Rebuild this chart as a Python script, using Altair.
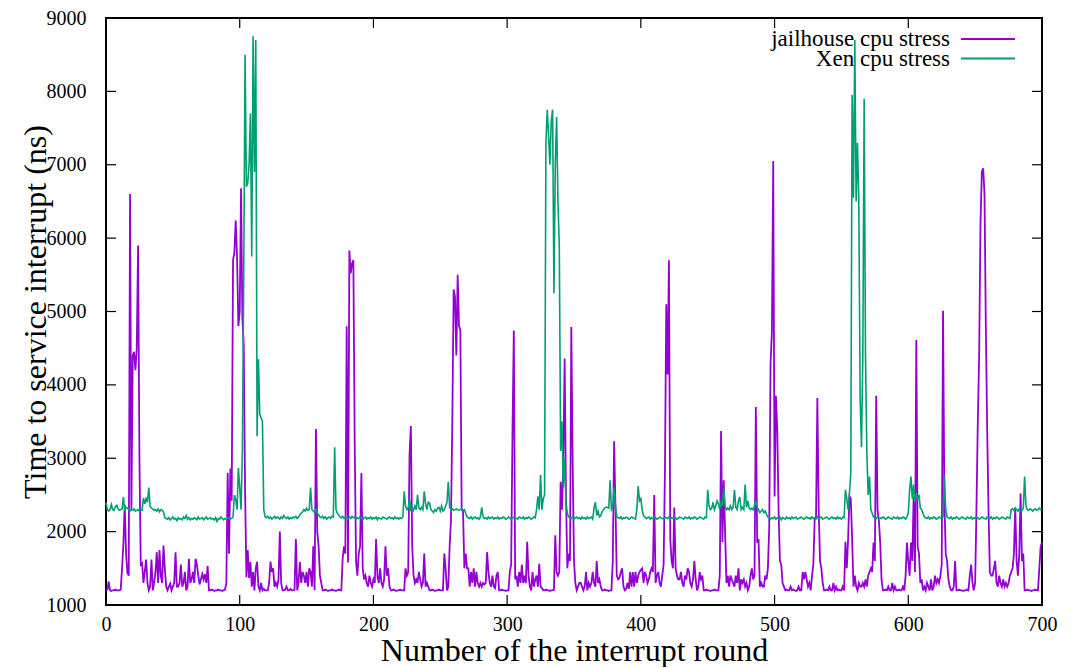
import altair as alt
import pandas as pd

J_LABEL = "jailhouse cpu stress"
X_LABEL = "Xen cpu stress"

# Time to service interrupt (ns) per interrupt round 0..700
jailhouse = [
    1200, 1210, 1320, 1200, 1190, 1200, 1200, 1210, 1200, 1200,
    1200, 1210, 1500, 1830, 2370, 1700, 1440, 1400, 6600, 2300,
    4400, 4450, 4200, 4500, 5900, 3000, 1550, 1570, 1300, 1450,
    1620, 1300, 1200, 1250, 1620, 1200, 1300, 1450, 1720, 1300,
    1750, 1400, 1300, 1810, 1500, 1250, 1200, 1250, 1290, 1200,
    1250, 1300, 1720, 1250, 1250, 1300, 1550, 1250, 1300, 1450,
    1200, 1250, 1630, 1300, 1350, 1450, 1300, 1630, 1550, 1400,
    1280, 1350, 1420, 1350, 1420, 1300, 1530, 1200, 1200, 1210,
    1200, 1190, 1200, 1200, 1210, 1200, 1200, 1190, 1200, 1210,
    1300, 2800, 1700, 2860, 2420, 5700, 5800, 6240, 5750, 4800,
    5000, 6680, 4900, 4550, 2580, 1380, 1750, 1370, 1590, 1250,
    1450, 1200, 1500, 1590, 1250, 1200, 1300, 1200, 1220, 1200,
    1200, 1200, 1300, 1590, 1450, 1500, 1250, 1300, 1250, 1350,
    2000, 1300, 1200, 1200, 1210, 1250, 1200, 1200, 1220, 1200,
    1200, 1210, 1900, 1200, 1300, 1590, 1300, 1450, 1400, 1300,
    1450, 1250, 1500, 1450, 1250, 1800, 1200, 3400, 2000, 1800,
    1400, 1300, 1200, 1200, 1210, 1200, 1190, 1200, 1200, 1210,
    1200, 1200, 1190, 1200, 1210, 1200, 1200, 1640, 1800, 1700,
    4800, 1580, 5830, 5520, 5650, 5700, 3200, 1590, 1400, 1700,
    1800, 2800, 1500, 1350, 1400, 1300, 1250, 1400, 1300, 1250,
    1350, 1300, 1900, 1400, 1300, 1500, 1300, 1250, 1350, 1800,
    1400, 1500, 1250, 1200, 1200, 1210, 1200, 1190, 1200, 1200,
    1210, 1200, 1200, 1200, 1500, 1400, 1450, 3050, 3440, 1800,
    1400, 1300, 1350, 1300, 1450, 1350, 1250, 1300, 1700, 1250,
    1300, 1250, 1200, 1200, 1210, 1200, 1190, 1200, 1200, 1210,
    1200, 1200, 1200, 1700, 1500, 1200, 1250, 1800, 2160, 3500,
    5300, 5200, 4400, 5500, 4800, 4750, 2300, 2280, 1500, 1700,
    1500, 1500, 1250, 1450, 1300, 1500, 1250, 1450, 1300, 1250,
    1300, 1250, 1300, 1280, 1300, 1720, 1450, 1300, 1250, 1400,
    1250, 1230, 1400, 1450, 1200, 1200, 1210, 1200, 1200, 1190,
    1200, 1200, 1450, 1550, 3360, 4740, 1350, 1400, 1250, 1450,
    1300, 1550, 1300, 1400, 1300, 1860, 1400, 1250, 1200, 1450,
    1250, 1350, 1400, 1250, 1560, 1250, 1230, 1200, 1200, 1210,
    1200, 1200, 1190, 1200, 1200, 1210, 1950, 1450, 1400, 1450,
    2680, 2300, 2940, 4360, 2500, 1500, 1700, 1600, 4790, 2940,
    1600, 1300, 1200, 1250, 1300, 1300, 1250, 1200, 1250, 1450,
    1200, 1300, 1250, 1300, 1450, 1300, 1250, 1600, 1300, 1350,
    1250, 1200, 1200, 1210, 1200, 1200, 1190, 1200, 1200, 1600,
    3230, 2340, 1400, 1350, 1370, 1450, 1500, 1250, 1200, 1220,
    1300, 1220, 1450, 1250, 1450, 1250, 1450, 1300, 1400, 1450,
    1480, 1500, 1300, 1450, 1400, 1300, 1350, 1450, 1500, 1450,
    2500, 1300, 1400, 1450, 1300, 1250, 1400, 1550, 2800, 5100,
    4140, 5700, 1900, 1600, 1500, 2330, 1500, 1400, 1350, 1350,
    1450, 1300, 1250, 1400, 1350, 1500, 1450, 1300, 1250, 1350,
    1600, 1350, 1200, 1250, 1450, 1350, 1400, 1200, 1200, 1210,
    1200, 1200, 1190, 1200, 1200, 1210, 1200, 1200, 1200, 1400,
    3370, 1860, 2700, 2000, 1300, 1400, 1250, 1400, 1350, 1300,
    1250, 1400, 1300, 1500, 1200, 1350, 1300, 1350, 1250, 1300,
    1200, 1250, 1400, 1500, 1350, 1400, 3700, 1850, 1900, 1250,
    1300, 1250, 1250, 1400, 1350, 1500, 2050, 4300, 4720, 7050,
    2480, 3850, 3400, 2300, 1600, 1550, 1300, 1250, 1200, 1210,
    1200, 1200, 1250, 1200, 1210, 1200, 1190, 1200, 1250, 1200,
    1200, 1450, 1350, 1450, 1350, 1250, 1300, 1200, 1400, 1550,
    2180, 2200, 3820, 2300, 1600, 1500, 1300, 1200, 1200, 1210,
    1200, 1250, 1200, 1200, 1300, 1200, 1250, 1200, 1210, 1200,
    1200, 1250, 1200, 1860, 1500, 1900, 2480, 2450, 1900, 1250,
    1400, 1250, 1200, 1300, 1250, 1250, 1300, 1250, 1350, 1250,
    1400, 1450, 1500, 1450, 1850, 1600, 3850, 2300, 2150, 1850,
    1350, 1200, 1200, 1210, 1200, 1250, 1200, 1200, 1300, 1200,
    1250, 1200, 1200, 1210, 1200, 1200, 1250, 1200, 1400, 1850,
    1600, 1400, 1850, 1600, 2480, 1450, 4610, 1800, 1700, 1300,
    1350, 1200, 1250, 1200, 1300, 1250, 1200, 1350, 1200, 1250,
    1400, 1300, 1350, 1300, 1400, 1550, 5010, 2400, 1700, 1600,
    1350, 1250, 1200, 1200, 1250, 1600, 1200, 1200, 1210, 1200,
    1200, 1190, 1200, 1200, 1210, 1200, 1400, 1550, 1300, 1200,
    1300, 2330, 3500, 4400, 6200, 6900, 6950, 6600, 4800, 3400,
    2300, 1450, 1400, 1400, 1500, 1600, 1300, 1250, 1400, 1300,
    1250, 1350, 1250, 1300, 1250, 1300, 1400, 1450, 1500, 1700,
    2330, 1600, 1400, 1700, 2520, 1600, 1700, 1200, 1200, 1210,
    1200, 1200, 1190, 1200, 1200, 1210, 1200, 1200, 1500, 1800,
    1850,
]

xen = [
    2400, 2300, 2280, 2300, 2370, 2300, 2290, 2340, 2360, 2310,
    2290, 2300, 2310, 2470, 2300, 2330, 2320, 2300, 2280, 2300,
    2290, 2310, 2280, 2290, 2300, 2280, 2300, 2290, 2460, 2380,
    2450, 2400, 2600, 2340, 2320, 2310, 2290, 2300, 2280, 2310,
    2270, 2300, 2290, 2270, 2190, 2180, 2170, 2190, 2160, 2180,
    2200, 2170, 2180, 2150, 2190, 2170, 2180, 2160, 2200, 2180,
    2220, 2170, 2190, 2160, 2180, 2170, 2190, 2180, 2160, 2200,
    2170, 2180, 2190, 2160, 2180, 2200, 2170, 2180, 2190, 2170,
    2180, 2160, 2190, 2140, 2180, 2170, 2200, 2180, 2160, 2180,
    2170, 2190, 2180, 2170, 2180, 2200, 2500, 2440, 2300, 2870,
    2600, 2300, 3100, 5500, 8500, 6700, 6750, 7000, 7700, 5750,
    8750, 6900, 8700, 3300, 4350, 3600, 3550, 3500, 2300, 2200,
    2190, 2210, 2180, 2200, 2170, 2190, 2210, 2180, 2200, 2190,
    2170, 2200, 2180, 2220, 2190, 2180, 2200, 2170, 2190, 2180,
    2200, 2190, 2210, 2180, 2200, 2230, 2250, 2270, 2300, 2280,
    2320, 2290, 2300, 2600, 2300, 2280, 2260, 2300, 2250, 2230,
    2200, 2190, 2210, 2180, 2200, 2170, 2190, 2200, 2180, 2210,
    2200, 3150, 2300, 2250, 2230, 2200, 2190, 2210, 2180, 2200,
    2190, 2170, 2200, 2180, 2210, 2190, 2200, 2170, 2190, 2180,
    2200, 2180, 2160, 2190, 2200, 2170, 2190, 2180, 2200, 2170,
    2190, 2180, 2200, 2160, 2190, 2180, 2170, 2200, 2190, 2180,
    2170, 2190, 2200, 2180, 2190, 2170, 2200, 2180, 2190, 2170,
    2190, 2180, 2200, 2550, 2350, 2300, 2320, 2450, 2300, 2330,
    2290, 2350, 2300, 2500, 2320, 2300, 2330, 2300, 2550, 2380,
    2300, 2400, 2390, 2300, 2280, 2260, 2300, 2280, 2320, 2330,
    2280, 2350, 2280, 2300, 2350, 2400, 2680, 2330, 2300, 2310,
    2290, 2300, 2310, 2300, 2290, 2300, 2310, 2290, 2300, 2250,
    2200, 2190, 2180, 2200, 2170, 2190, 2200, 2180, 2190, 2170,
    2200, 2330, 2200, 2180, 2190, 2170, 2200, 2180, 2190, 2200,
    2170, 2190, 2180, 2200, 2170, 2190, 2180, 2200, 2190, 2170,
    2180, 2200, 2190, 2170, 2180, 2200, 2190, 2180, 2170, 2200,
    2190, 2180, 2200, 2170, 2190, 2180, 2200, 2190, 2170, 2180,
    2200, 2190, 2300, 2480, 2300, 2770, 2300, 2450, 2500, 7300,
    7750, 7400, 7000, 7600, 7750, 5250, 7000, 7650, 6500, 5900,
    3100, 3500, 2600, 3000, 2400, 2250, 2200, 2190, 2180, 2200,
    2170, 2190, 2200, 2180, 2190, 2170, 2200, 2180, 2190, 2170,
    2200, 2180, 2190, 2200, 2170, 2330, 2400, 2220, 2280, 2200,
    2220, 2270, 2300, 2320, 2330, 2330, 2320, 2700, 2300, 2330,
    2600, 2350, 2200, 2190, 2180, 2200, 2170, 2190, 2180, 2200,
    2190, 2170, 2180, 2200, 2190, 2180, 2170, 2300, 2620, 2420,
    2450, 2290, 2220, 2200, 2180, 2190, 2200, 2170, 2190, 2180,
    2200, 2190, 2170, 2180, 2200, 2190, 2180, 2170, 2200, 2190,
    2180, 2200, 2170, 2190, 2180, 2200, 2190, 2170, 2180, 2200,
    2190, 2180, 2170, 2200, 2190, 2180, 2200, 2170, 2190, 2180,
    2200, 2190, 2170, 2180, 2200, 2190, 2180, 2170, 2200, 2190,
    2570, 2350, 2300, 2320, 2400, 2300, 2350, 2420, 2380, 2300,
    2400, 2350, 2600, 2350, 2300, 2320, 2300, 2350, 2300, 2330,
    2570, 2330, 2300, 2420, 2470, 2300, 2330, 2300, 2640, 2330,
    2420, 2320, 2300, 2320, 2300, 2360, 2420, 2330, 2300, 2260,
    2280, 2300, 2260, 2280, 2230, 2200, 2180, 2170, 2190, 2180,
    2200, 2170, 2190, 2180, 2200, 2160, 2190, 2180, 2170, 2200,
    2180, 2190, 2170, 2200, 2180, 2190, 2200, 2170, 2180, 2190,
    2200, 2180, 2170, 2190, 2200, 2180, 2190, 2170, 2200, 2180,
    2190, 2170, 2200, 2180, 2190, 2200, 2170, 2180, 2190, 2200,
    2180, 2170, 2190, 2200, 2180, 2190, 2170, 2200, 2180, 2190,
    2170, 2200, 2190, 2570, 2450, 2300, 2520, 2800, 7950, 6550,
    8700, 6500, 7300, 6500, 3800, 3150, 4400, 7900, 4400, 3100,
    2500, 2750, 2300, 2250, 2200, 2190, 2180, 2200, 2170, 2190,
    2180, 2200, 2190, 2170, 2180, 2200, 2190, 2180, 2170, 2200,
    2190, 2180, 2200, 2170, 2190, 2180, 2200, 2190, 2170, 2200,
    2250, 2570, 2750, 2450, 2640, 2400, 2530, 2450, 2500, 2320,
    2300, 2250, 2200, 2190, 2180, 2200, 2170, 2190, 2180, 2200,
    2190, 2170, 2180, 2200, 2190, 2180, 2200, 2750, 2300, 2200,
    2190, 2180, 2200, 2170, 2190, 2180, 2200, 2190, 2170, 2180,
    2200, 2190, 2180, 2170, 2200, 2190, 2180, 2200, 2170, 2190,
    2180, 2200, 2190, 2170, 2180, 2200, 2190, 2180, 2170, 2200,
    2190, 2180, 2200, 2170, 2190, 2180, 2200, 2190, 2170, 2180,
    2200, 2190, 2180, 2170, 2200, 2190, 2180, 2300, 2310, 2290,
    2320, 2300, 2280, 2310, 2300, 2290, 2320, 2750, 2350, 2300,
    2290, 2310, 2300, 2280, 2300, 2310, 2290, 2300, 2320, 2300,
    2310,
]

x_ticks = [0, 100, 200, 300, 400, 500, 600, 700]
y_ticks = [1000, 2000, 3000, 4000, 5000, 6000, 7000, 8000, 9000]

W, H = 936, 587
FONT = "Liberation Serif"
TICK = 10
C_J = "#9400d3"
C_X = "#009e73"

df_j = pd.DataFrame({"round": list(range(len(jailhouse))), "ns": jailhouse, "series": J_LABEL})
df_x = pd.DataFrame({"round": list(range(len(xen))), "ns": xen, "series": X_LABEL})
df_xt = pd.DataFrame({"round": x_ticks})
df_yt = pd.DataFrame({"ns": y_ticks})

x_enc = alt.X(
    "round:Q",
    scale=alt.Scale(domain=[0, 700], nice=False, zero=False),
    axis=alt.Axis(
        values=x_ticks, format="d", title="Number of the interrupt round",
        grid=False, domain=False, ticks=False, tickSize=0,
        labelFont=FONT, labelFontSize=20, labelColor="black", labelPadding=9,
        labelFlush=False, labelOverlap=False,
        titleFont=FONT, titleFontSize=32, titleFontWeight="normal", titleColor="black",
        titleX=W / 2, titleY=55, titleBaseline="alphabetic",
    ),
)
y_enc = alt.Y(
    "ns:Q",
    scale=alt.Scale(domain=[1000, 9000], nice=False, zero=False),
    axis=alt.Axis(
        values=y_ticks, format="d", title="Time to service interrupt (ns)",
        grid=False, domain=False, ticks=False, tickSize=0,
        labelFont=FONT, labelFontSize=20, labelColor="black", labelPadding=20,
        labelFlush=False, labelOverlap=False,
        titleFont=FONT, titleFontSize=32, titleFontWeight="normal", titleColor="black",
        titleX=-61, titleY=H / 2, titleAngle=270, titleAlign="center",
        titleBaseline="alphabetic",
    ),
)

color_enc = alt.Color(
    "series:N",
    scale=alt.Scale(domain=[J_LABEL, X_LABEL], range=[C_J, C_X]),
    legend=None,
)

line_j = alt.Chart(df_j).mark_line(strokeWidth=1.8).encode(x=x_enc, y=y_enc, color=color_enc)
line_x = alt.Chart(df_x).mark_line(strokeWidth=1.6).encode(x=x_enc, y=y_enc, color=color_enc)

tick_style = dict(color="black", strokeWidth=1.2)
t_bottom = alt.Chart(df_xt).mark_rule(**tick_style).encode(x=x_enc, y=alt.value(H), y2=alt.value(H - TICK))
t_top = alt.Chart(df_xt).mark_rule(**tick_style).encode(x=x_enc, y=alt.value(0), y2=alt.value(TICK))
t_left = alt.Chart(df_yt).mark_rule(**tick_style).encode(y=y_enc, x=alt.value(0), x2=alt.value(TICK))
t_right = alt.Chart(df_yt).mark_rule(**tick_style).encode(y=y_enc, x=alt.value(W - TICK), x2=alt.value(W))

# gnuplot-style key: right-aligned text followed by a line sample
key_j = pd.DataFrame({"series": [J_LABEL]})
key_x = pd.DataFrame({"series": [X_LABEL]})
key_text = dict(align="right", baseline="alphabetic", font=FONT, fontSize=23, color="black")
kt_j = alt.Chart(key_j).mark_text(**key_text).encode(text="series:N", x=alt.value(844), y=alt.value(28))
kt_x = alt.Chart(key_x).mark_text(**key_text).encode(text="series:N", x=alt.value(844), y=alt.value(47.5))
kl_j = alt.Chart(key_j).mark_rule(color=C_J, strokeWidth=2).encode(
    x=alt.value(855), x2=alt.value(909), y=alt.value(21))
kl_x = alt.Chart(key_x).mark_rule(color=C_X, strokeWidth=2).encode(
    x=alt.value(855), x2=alt.value(909), y=alt.value(40.5))

chart = (
    alt.layer(line_j, line_x, t_bottom, t_top, t_left, t_right, kt_j, kt_x, kl_j, kl_x)
    .properties(
        width=W, height=H,
        autosize=alt.AutoSizeParams(type="none"),
        padding={"left": 98, "top": 10, "right": 27, "bottom": 62},
        background="white",
    )
    .configure_view(stroke="black", strokeWidth=2)
)

chart.save("out.html", embed_options={"renderer": "svg", "actions": False})
